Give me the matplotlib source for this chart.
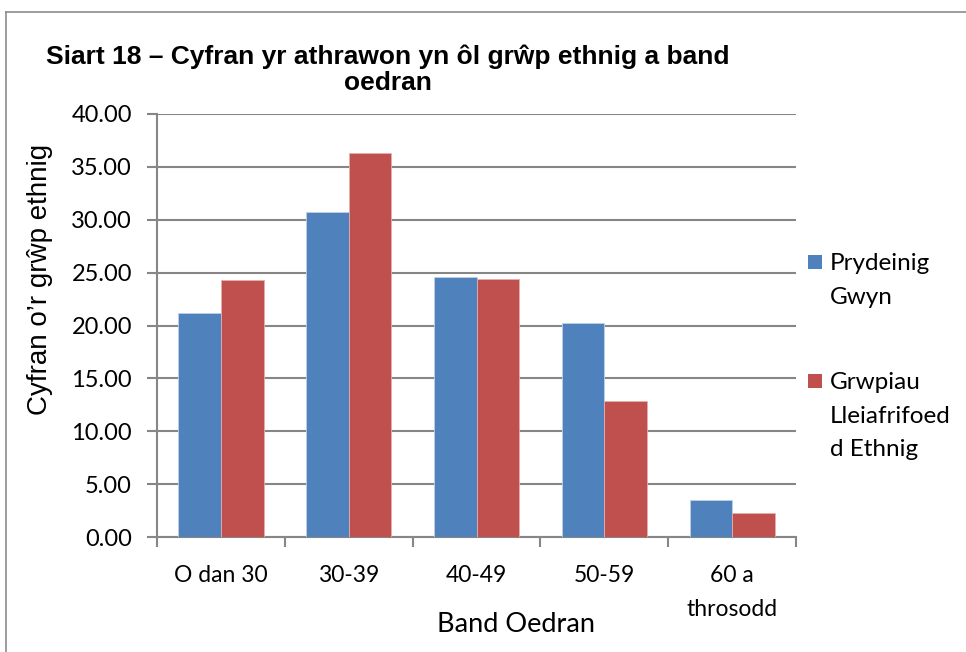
import matplotlib
matplotlib.use("Agg")
import matplotlib.pyplot as plt
from matplotlib.lines import Line2D
from matplotlib.patches import Rectangle
import numpy as np

categories = ["O dan 30", "30-39", "40-49", "50-59", "60 a\nthrosodd"]
series_names = ["Prydeinig\nGwyn", "Grwpiau\nLleiafrifoed\nd Ethnig"]
white_british = [21.2, 30.7, 24.6, 20.2, 3.5]
minority_ethnic = [24.3, 36.3, 24.4, 12.9, 2.3]
yticks = [0, 5, 10, 15, 20, 25, 30, 35, 40]

title = "Siart 18 – Cyfran yr athrawon yn ôl grŵp ethnig a band\noedran"
xlabel = "Band Oedran"
ylabel = "Cyfran o’r grŵp ethnig"

blue = "#4F81BD"
red = "#C0504D"
grid_grey = "#868686"
body_font = "Lato"

W, H = 966, 652
fig = plt.figure(figsize=(W / 100, H / 100), dpi=100)
ax = fig.add_axes([157 / W, 1 - 537 / H, (796 - 157) / W, (537 - 114) / H])

x = np.arange(len(categories))
w = 1 / 3
ax.bar(x - w / 2, white_british, width=w, color=blue, edgecolor="#BFD0E6", linewidth=0.6, zorder=3)
ax.bar(x + w / 2, minority_ethnic, width=w, color=red, edgecolor="#E3AFAE", linewidth=0.6, zorder=3)

ax.set_xlim(-0.5, len(categories) - 0.5)
ax.set_ylim(0, 40)
ax.set_yticks(yticks)
ax.set_yticklabels([f"{v:.2f}" for v in yticks], fontsize=17, family=body_font)
ax.yaxis.grid(True, color=grid_grey, linewidth=1.5, zorder=0)
ax.set_axisbelow(True)

# category ticks on the boundaries, labels at the centres
ax.set_xticks(np.arange(len(categories) + 1) - 0.5)
ax.set_xticklabels([])
ax.set_xticks(x, minor=True)
ax.set_xticklabels(categories, minor=True, fontsize=16.5, family=body_font,
                   linespacing=1.8, va="top")
ax.tick_params(axis="x", which="minor", length=0, pad=20)
ax.tick_params(axis="x", which="major", length=7, width=1.5, color=grid_grey)
ax.tick_params(axis="y", length=7, width=1.5, color=grid_grey, pad=11)

for side in ["top", "right"]:
    ax.spines[side].set_visible(False)
for side in ["left", "bottom"]:
    ax.spines[side].set_color(grid_grey)
    ax.spines[side].set_linewidth(1.5)

ax.set_xlabel(xlabel, fontsize=19.5, family=body_font, va="center")
ax.xaxis.set_label_coords((516 - 157) / (796 - 157), -(625 - 537) / (537 - 114))
ax.set_ylabel(ylabel, fontsize=20, family="Liberation Sans", va="center")
ax.yaxis.set_label_coords(-(157 - 40) / (796 - 157), (537 - 279) / (537 - 114))

fig.text(388 / W, 1 - 70 / H, title, ha="center", va="center",
         fontsize=19, fontweight="bold", family="Liberation Sans", linespacing=1.1)

# legend: swatch beside the first line of each label
legend_rows = [(262, blue, series_names[0]), (381, red, series_names[1])]
for y_px, color, label in legend_rows:
    fig.add_artist(Rectangle((808 / W, 1 - (y_px + 7) / H), 14 / W, 14 / H,
                             transform=fig.transFigure, facecolor=color, edgecolor="none"))
    fig.text(830 / W, 1 - (y_px - 9) / H, label, ha="left", va="top",
             fontsize=17.5, family=body_font, linespacing=1.75)

# chart area border
border = "#8C8C8C"
fig.add_artist(Line2D([6 / W, 6 / W], [0, 1 - 12 / H], transform=fig.transFigure, color=border, linewidth=1.2))
fig.add_artist(Line2D([6 / W, 1], [1 - 12 / H, 1 - 12 / H], transform=fig.transFigure, color=border, linewidth=1.2))

fig.savefig("out.png", dpi=100)
